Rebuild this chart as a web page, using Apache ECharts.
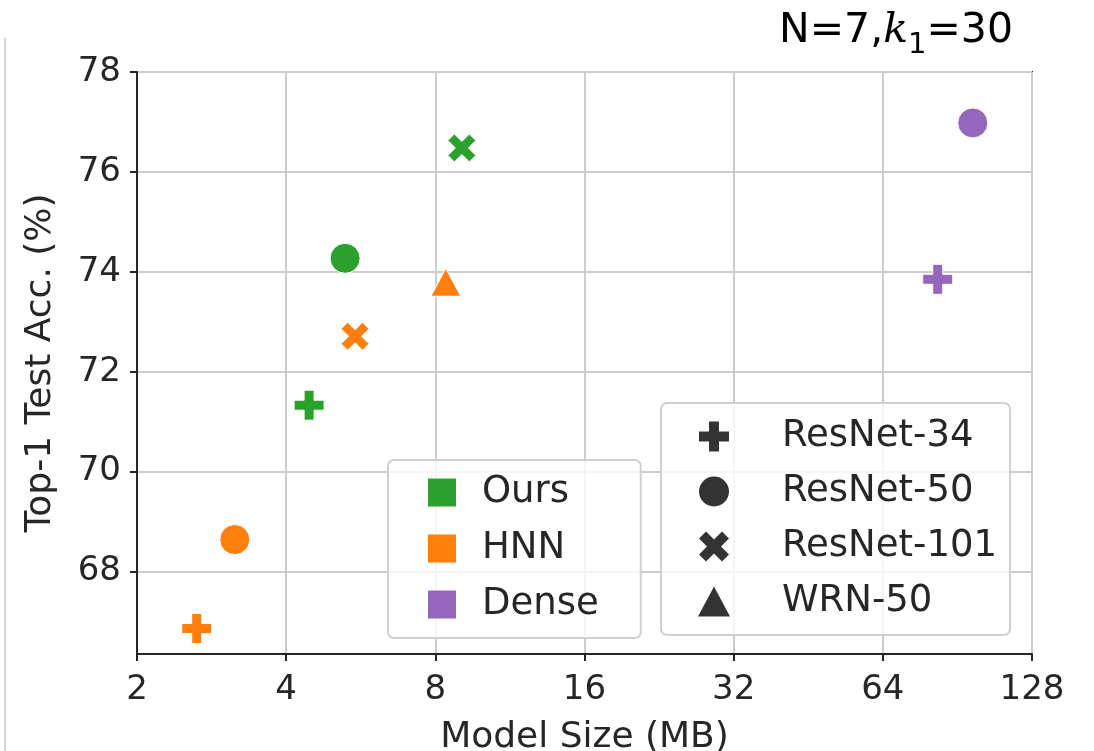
<!DOCTYPE html>
<html>
<head>
<meta charset="utf-8">
<script src="https://cdn.jsdelivr.net/npm/echarts@6/dist/echarts.min.js"></script>
<style>
  html, body { margin: 0; padding: 0; background: #fff; }
  #main { width: 1094px; height: 751px; }
</style>
</head>
<body>
<div id="main"></div>
<script>
// 数据
var archs = ['ResNet-34', 'ResNet-50', 'ResNet-101', 'WRN-50'];
var methods = ['Ours', 'HNN', 'Dense'];
var oursSize = [4.45, 5.26, 9.05, null];
var oursAcc = [71.33, 74.27, 76.48, null];
var hnnSize = [2.64, 3.15, 5.51, 8.4];
var hnnAcc = [66.86, 68.64, 72.71, 73.79];
var denseSize = [82.6, 97.2, null, null];
var denseAcc = [73.85, 76.98, null, null];
var yTicks = [68, 70, 72, 74, 76, 78];

var colors = ['#2ca02c', '#ff7f0e', '#9467bd'];
var plusPath = 'path://M-1,-3L1,-3L1,-1L3,-1L3,1L1,1L1,3L-1,3L-1,1L-3,1L-3,-1L-1,-1Z';
var xPath = 'path://M0,-1.4L1.6,-3L3,-1.6L1.4,0L3,1.6L1.6,3L0,1.4L-1.6,3L-3,1.6L-1.4,0L-3,-1.6L-1.6,-3Z';
var shapes = [plusPath, 'circle', xPath, 'triangle'];
var sizes = [30, 30, 28, [30, 28]];
var font = 'DejaVu Sans';

function makeData(xs, ys) {
    var out = [];
    for (var i = 0; i < xs.length; i++) {
        if (xs[i] == null) continue;
        out.push({ value: [xs[i], ys[i]], symbol: shapes[i], symbolSize: sizes[i] });
    }
    return out;
}

var chart = echarts.init(document.getElementById('main'));

var series = [
    { name: 'Ours', type: 'scatter', data: makeData(oursSize, oursAcc) },
    { name: 'HNN', type: 'scatter', data: makeData(hnnSize, hnnAcc) },
    { name: 'Dense', type: 'scatter', data: makeData(denseSize, denseAcc) }
].map(function (s, i) {
    s.itemStyle = { color: colors[i], borderColor: '#fff', borderWidth: 1, opacity: 1 };
    s.emphasis = { disabled: true };
    s.z = 5;
    return s;
});
// 形状图例用的空系列
archs.forEach(function (a) {
    series.push({ name: a, type: 'scatter', data: [], itemStyle: { color: '#000' } });
});

var legendBox = {
    orient: 'vertical',
    backgroundColor: 'rgba(255,255,255,0.8)',
    borderColor: '#d0d0d0',
    borderWidth: 2,
    borderRadius: 6,
    selectedMode: false,
    itemStyle: { borderWidth: 0 }
};

var option = {
    animation: false,
    textStyle: { fontFamily: font },
    title: {
        right: 76,
        top: 6,
        text: '{a|N=7,}{k|k}{s|1}{a|=30}',
        textStyle: {
            fontWeight: 'normal',
            rich: {
                a: { fontFamily: font, fontWeight: 'normal', fontSize: 41, color: '#000', verticalAlign: 'bottom' },
                k: { fontFamily: 'DejaVu Serif', fontWeight: 'normal', fontStyle: 'italic', fontSize: 41, color: '#000', verticalAlign: 'bottom' },
                s: { fontFamily: font, fontWeight: 'normal', fontSize: 29, color: '#000', verticalAlign: 'bottom', padding: [0, 0, -8, 0] }
            }
        }
    },
    grid: {
        left: 137, right: 62, top: 72, bottom: 97,
        outerBoundsMode: 'none',
        containLabel: false,
        show: true, borderColor: '#262626', borderWidth: 2
    },
    legend: [
        Object.assign({}, legendBox, {
            left: 388, top: 460,
            padding: [14, 42, 15, 40],
            itemGap: 19,
            itemWidth: 28, itemHeight: 28,
            data: methods.map(function (m) { return { name: m, icon: 'rect' }; }),
            textStyle: { fontFamily: font, fontSize: 37, color: '#262626', padding: [0, 0, 0, 21] }
        }),
        Object.assign({}, legendBox, {
            left: 661, top: 403,
            padding: [15, 13, 15, 37],
            itemGap: 18,
            itemWidth: 32, itemHeight: 30,
            data: archs.map(function (a, i) { return { name: a, icon: shapes[i] }; }),
            textStyle: { fontFamily: font, fontSize: 37, color: '#262626', padding: [0, 0, 0, 47] }
        })
    ],
    xAxis: {
        type: 'log',
        logBase: 2,
        min: 2,
        max: 128,
        name: 'Model Size (MB)',
        nameLocation: 'middle',
        nameGap: 66,
        nameTextStyle: { fontFamily: font, fontSize: 36, color: '#262626' },
        axisLine: { show: true, lineStyle: { color: '#262626', width: 2 } },
        axisTick: { show: true, length: 7, lineStyle: { color: '#262626', width: 2 } },
        axisLabel: { fontFamily: font, fontSize: 34, color: '#262626', margin: 19 },
        splitLine: { show: true, lineStyle: { color: '#cccccc', width: 2 } }
    },
    yAxis: {
        type: 'value',
        min: 66.35,
        max: 78,
        name: 'Top-1 Test Acc. (%)',
        nameLocation: 'middle',
        nameGap: 78,
        nameTextStyle: { fontFamily: font, fontSize: 36, color: '#262626' },
        axisLine: { show: true, lineStyle: { color: '#262626', width: 2 } },
        axisTick: { show: true, length: 7, customValues: yTicks, lineStyle: { color: '#262626', width: 2 } },
        axisLabel: { fontFamily: font, fontSize: 34, color: '#262626', margin: 16, customValues: yTicks },
        splitLine: { show: true, lineStyle: { color: '#cccccc', width: 2 } }
    },
    graphic: [{
        type: 'line',
        shape: { x1: 5, y1: 38, x2: 5, y2: 751 },
        style: { stroke: '#d8d8d8', lineWidth: 2 }
    }],
    series: series
};

chart.setOption(option);
</script>
</body>
</html>
